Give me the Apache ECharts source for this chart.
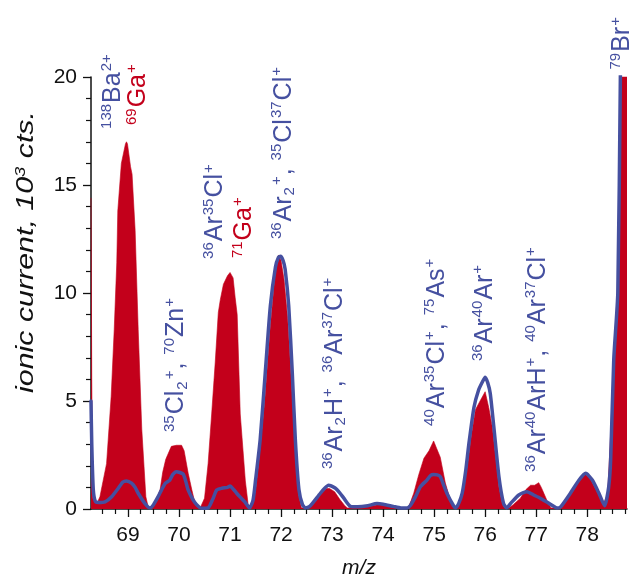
<!DOCTYPE html>
<html><head><meta charset="utf-8">
<script src="https://cdn.jsdelivr.net/npm/echarts@6/dist/echarts.min.js"></script>
<style>html,body{margin:0;padding:0;background:#fff}#c{width:630px;height:574px}</style>
</head><body><div id="c"></div>
<script>
// ---------- data (m/z, ionic current in 10^3 cts) ----------
const redMz  = [68.275,68.29,68.31,68.40,68.45,68.58,68.67,68.73,68.78,68.80,68.87,68.95,68.97,68.99,69.05,69.08,69.14,69.20,69.27,69.35,69.40,
  69.45,69.55,69.63,69.68,69.74,69.85,69.95,70.05,70.10,70.18,70.25,70.31,70.41,
  70.44,70.50,70.57,70.64,70.71,70.77,70.81,70.87,70.95,71.00,71.06,71.10,71.14,71.20,71.30,71.36,
  71.40,71.50,71.58,71.68,71.78,71.88,71.95,72.00,72.06,72.13,72.20,72.27,72.34,72.40,
  72.50,72.60,72.70,72.80,72.90,72.95,73.05,73.15,73.25,73.30,
  73.50,73.70,73.90,74.10,74.30,74.45,
  74.50,74.55,74.60,74.70,74.80,74.90,74.99,75.05,75.12,75.22,75.32,75.39,
  75.45,75.52,75.58,75.65,75.73,75.81,75.90,76.00,76.07,76.14,76.20,76.27,76.33,76.38,
  76.45,76.55,76.62,76.69,76.80,76.89,76.97,77.05,77.10,77.15,77.22,77.29,
  77.45,77.55,77.67,77.80,77.92,77.97,78.05,78.15,78.25,78.32,78.40,78.46,78.52,78.60,78.66,78.78];
const redVal = [14.4,6.0,0.5,0.3,0.57,2.1,5.2,8.3,11.4,13.8,16.0,16.9,17.0,16.9,15.85,15.5,12.9,8.3,3.7,0.57,0.05,
  0.05,0.4,0.9,1.7,2.3,2.9,2.95,2.95,2.7,1.65,0.9,0.3,0.02,
  0.02,0.5,2.1,4.4,6.8,9.1,9.7,10.4,10.8,10.95,10.7,9.8,9.0,4.4,1.3,0.1,
  0.1,0.8,2.5,5.0,8.2,10.8,11.76,11.5,10.6,8.8,6.0,3.0,0.7,0.05,
  0.05,0.2,0.5,0.8,0.95,0.95,0.8,0.45,0.15,0.05,
  0.05,0.1,0.2,0.15,0.05,0.05,
  0.1,0.4,0.73,1.6,2.35,2.7,3.15,2.8,2.4,1.2,0.4,0.02,
  0.02,0.4,1.0,1.96,3.4,4.6,5.0,5.43,4.7,3.8,2.5,1.0,0.3,0.02,
  0.02,0.2,0.35,0.5,0.9,1.1,1.1,1.22,1.0,0.73,0.35,0.05,
  0.05,0.3,0.7,1.2,1.55,1.6,1.45,1.0,0.55,0.25,0.7,3.5,7.0,10.5,21,30];

const blueMz  = [68.275,68.29,68.32,68.36,68.42,68.55,68.68,68.81,68.90,68.97,69.07,69.14,69.20,69.33,69.43,
  69.50,69.59,69.66,69.73,69.82,69.88,69.95,70.08,70.13,70.18,70.31,70.44,
  70.57,70.66,70.74,70.84,70.95,71.00,71.07,71.13,71.20,71.29,71.38,
  71.45,71.50,71.59,71.69,71.79,71.89,71.95,71.99,72.04,72.08,72.15,72.22,72.28,72.35,72.42,72.48,
  72.55,72.61,72.77,72.85,72.93,73.06,73.15,73.23,73.36,
  73.50,73.70,73.88,74.00,74.20,74.35,74.47,
  74.53,74.63,74.73,74.86,74.93,74.99,75.06,75.12,75.18,75.25,75.38,75.42,
  75.48,75.55,75.62,75.68,75.78,75.87,75.95,76.00,76.05,76.10,76.17,76.27,76.36,76.42,
  76.50,76.66,76.82,76.95,77.08,77.25,77.41,
  77.48,77.67,77.84,77.97,78.10,78.23,78.34,78.42,78.46,78.52,78.60,78.65,78.70,78.78];
const blueVal = [5.0,3.0,0.9,0.35,0.3,0.33,0.57,0.96,1.25,1.3,1.2,1.0,0.73,0.26,0.05,
  0.2,0.57,0.9,1.19,1.34,1.6,1.73,1.62,1.3,0.88,0.3,0.03,
  0.05,0.45,0.88,0.96,1.0,1.06,0.9,0.73,0.55,0.33,0.05,
  0.4,1.34,3.2,6.3,9.4,11.2,11.65,11.7,11.5,11.1,9.4,6.3,3.2,0.9,0.2,0.05,
  0.1,0.25,0.73,0.95,1.1,0.97,0.75,0.5,0.12,
  0.1,0.15,0.25,0.22,0.12,0.05,0.05,
  0.15,0.55,1.03,1.34,1.55,1.6,1.58,1.5,1.15,0.73,0.15,0.05,
  0.25,0.73,1.8,3.0,4.7,5.5,5.9,6.1,5.85,5.35,3.8,1.5,0.26,0.05,
  0.26,0.65,0.8,0.65,0.5,0.26,0.05,
  0.1,0.73,1.34,1.65,1.34,0.73,0.15,1.0,2.3,6.9,10,20,30,30];

const majorTicks = [69,70,71,72,73,74,75,76,77,78];

// peak annotations: column centre (m/z), start height (10^3 cts), text, colour
const labelMz  = [68.71,69.20,69.95,70.71,71.28,72.05,73.05,75.05,75.99,77.03,78.68];
const labelY   = [17.55,17.73,3.52,11.53,11.57,12.45,1.8,3.8,6.8,1.67,20.3];
const labelText = [
  '{sup|138}{m|Ba}{sup|2+}',
  '{sup|69}{m|Ga}{sup|+}',
  '{sup|35}{m|Cl}{sub|2}{sup|+}{m|, }{sup|70}{m|Zn}{sup|+}',
  '{sup|36}{m|Ar}{sup|35}{m|Cl}{sup|+}',
  '{sup|71}{m|Ga}{sup|+}',
  '{sup|36}{m|Ar}{sub|2}{sup|+}{m|, }{sup|35}{m|Cl}{sup|37}{m|Cl}{sup|+}',
  '{sup|36}{m|Ar}{sub|2}{m|H}{sup|+}{m|, }{sup|36}{m|Ar}{sup|37}{m|Cl}{sup|+}',
  '{sup|40}{m|Ar}{sup|35}{m|Cl}{sup|+}{m|, }{sup|75}{m|As}{sup|+}',
  '{sup|36}{m|Ar}{sup|40}{m|Ar}{sup|+}',
  '{sup|36}{m|Ar}{sup|40}{m|ArH}{sup|+}{m|, }{sup|40}{m|Ar}{sup|37}{m|Cl}{sup|+}',
  '{sup|79}{m|Br}{sup|+}'
];
const BLUE = '#4550a0', RED = '#c3001b';
const labelColor = [BLUE,RED,BLUE,BLUE,RED,BLUE,BLUE,BLUE,BLUE,BLUE,BLUE];

// ---------- chart ----------
const FONT = '"Liberation Sans", Arial, Helvetica, sans-serif';
const minorX = [];
for (let k = 68; k <= 78; k++) for (const f of [0.25,0.5,0.75]) { const v = k + f; if (v > 68.275 && v < 78.79) minorX.push(v); }

const chart = echarts.init(document.getElementById('c'), null, {renderer:'canvas'});
const axisCol = '#111';
const option = {
  animation: false,
  backgroundColor: '#fff',
  grid: {left: 91, right: 3, top: 77, bottom: 65, containLabel: false, outerBoundsMode: 'none'},
  xAxis: [{
    type: 'value', min: 68.275, max: 78.78,
    name: 'm/z', nameLocation: 'middle', nameGap: 49,
    nameTextStyle: {fontFamily: FONT, fontSize: 21, fontStyle: 'italic', color: axisCol},
    axisLine: {show: true, onZero: false, lineStyle: {color: axisCol, width: 1.5}},
    axisTick: {show: true, customValues: majorTicks, length: 8, lineStyle: {color: axisCol, width: 1.3}},
    axisLabel: {customValues: majorTicks, fontFamily: FONT, fontSize: 21, color: axisCol, margin: 16},
    splitLine: {show: false}
  }, {
    type: 'value', min: 68.275, max: 78.78, position: 'bottom',
    axisLine: {show: false},
    axisTick: {show: true, customValues: minorX, length: 5, lineStyle: {color: axisCol, width: 1.2}},
    axisLabel: {show: false},
    splitLine: {show: false}
  }],
  yAxis: {
    type: 'value', min: 0, max: 20, interval: 5,
    axisLine: {show: true, lineStyle: {color: axisCol, width: 1.5}},
    axisTick: {show: true, length: 8, lineStyle: {color: axisCol, width: 1.3}},
    minorTick: {show: true, splitNumber: 5, length: 5, lineStyle: {color: axisCol, width: 1.2}},
    axisLabel: {fontFamily: FONT, fontSize: 21, color: axisCol, margin: 14},
    splitLine: {show: false}
  },
  series: [{
    type: 'line', name: 'red', data: redMz.map((x,i)=>[x, redVal[i]]),
    showSymbol: false, symbol: 'none', clip: true,
    lineStyle: {width: 0.6, color: RED},
    areaStyle: {color: RED, opacity: 1},
    z: 2
  }, {
    type: 'line', name: 'blue', data: blueMz.map((x,i)=>[x, blueVal[i]]),
    showSymbol: false, symbol: 'none', clip: true, smooth: 0.2,
    lineStyle: {width: 3.5, color: BLUE, join: 'round', cap: 'round'},
    z: 3
  }]
};
chart.setOption(option);

const rich = {
  m:   {fontFamily: FONT, fontSize: 25, lineHeight: 28, verticalAlign: 'middle'},
  sup: {fontFamily: FONT, fontSize: 15, lineHeight: 15, verticalAlign: 'top', padding: [0, 1, 0, 1]},
  sub: {fontFamily: FONT, fontSize: 15, lineHeight: 15, verticalAlign: 'bottom', padding: [0, 1, 0, 1]}
};
const graphics = labelText.map((t, i) => {
  const p = chart.convertToPixel({gridIndex: 0}, [labelMz[i], labelY[i]]);
  return {
    type: 'text', x: p[0], y: p[1], rotation: Math.PI / 2, z: 10,
    style: {text: t, fill: labelColor[i], rich: rich, fontFamily: FONT, fontSize: 25,
            align: 'left', verticalAlign: 'middle', textAlign: 'left', textVerticalAlign: 'middle'}
  };
});
graphics.push({
  type: 'text', x: 27, y: 252, rotation: Math.PI / 2, z: 10, scaleX: 1.32,
  style: {text: '{t|ionic current, 10}{s|3}{t| cts.}', fill: axisCol,
    rich: {t: {fontFamily: FONT, fontSize: 23, fontStyle: 'italic', lineHeight: 26, verticalAlign: 'middle'},
           s: {fontFamily: FONT, fontSize: 14, fontStyle: 'italic', lineHeight: 14, verticalAlign: 'top'}},
    align: 'center', verticalAlign: 'middle', textAlign: 'center', textVerticalAlign: 'middle'}
});
chart.setOption({graphic: graphics});
</script>
</body></html>
